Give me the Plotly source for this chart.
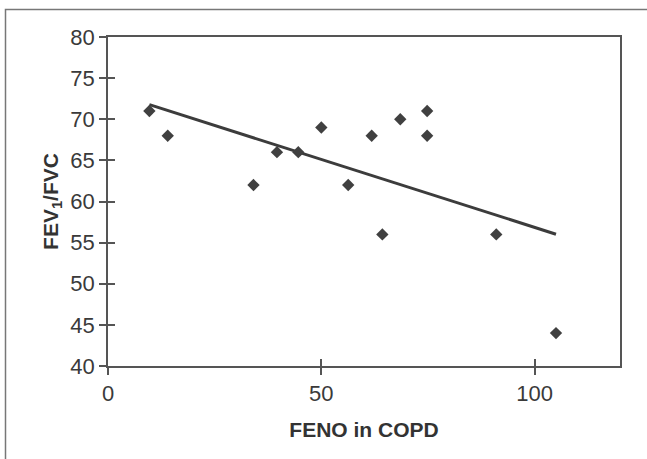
import numpy as np
import plotly.graph_objects as go

feno = [9.7, 14.0, 34.1, 39.6, 44.6, 50.0, 56.3, 61.8, 64.3, 68.5, 74.8, 74.8, 91.0, 105.0]
fev1_fvc = [71, 68, 62, 66, 66, 69, 62, 68, 56, 70, 71, 68, 56, 44]
x_ticks = [0, 50, 100]
y_ticks = [40, 45, 50, 55, 60, 65, 70, 75, 80]
x_range = [0, 120]
y_range = [40, 80]

slope, intercept = np.polyfit(feno, fev1_fvc, 1)
fit_x = [min(feno), max(feno)]
fit_y = [slope * v + intercept for v in fit_x]

dark = "#3c3c3c"
axis_col = "#555555"
font_fam = "Liberation Sans, Arial, sans-serif"

fig = go.Figure()
fig.add_trace(go.Scatter(x=fit_x, y=fit_y, mode="lines",
                         line=dict(color=dark, width=3), showlegend=False, hoverinfo="skip"))
fig.add_trace(go.Scatter(x=feno, y=fev1_fvc, mode="markers",
                         marker=dict(symbol="diamond", size=9.5, color="#404040"),
                         showlegend=False))
# invisible trace to activate the overlay axes used for the inner half of crossing ticks
fig.add_trace(go.Scatter(x=feno, y=fev1_fvc, mode="markers", xaxis="x2", yaxis="y2",
                         marker=dict(opacity=0), showlegend=False, hoverinfo="skip"))

axis_common = dict(showgrid=False, zeroline=False, linecolor=axis_col, linewidth=1.5,
                   tickcolor=axis_col, tickwidth=1.5, ticklen=7,
                   tickfont=dict(family=font_fam, size=22, color="#3a3a3a"))

fig.update_layout(
    width=647, height=459,
    margin=dict(l=108, r=27, t=37, b=93),
    paper_bgcolor="white", plot_bgcolor="white",
    font=dict(family=font_fam),
    xaxis=dict(range=x_range, tickvals=x_ticks, ticks="outside", showline=True, mirror=True,
               title=dict(text="<b>FENO in COPD</b>", font=dict(family=font_fam, size=21, color="#333333"),
                          standoff=17),
               **axis_common),
    yaxis=dict(range=y_range, tickvals=y_ticks, ticks="outside", showline=True, mirror=True,
               title=dict(text="<b>FEV<sub>1</sub>/FVC</b>", font=dict(family=font_fam, size=21, color="#333333"),
                          standoff=6),
               **axis_common),
    xaxis2=dict(range=x_range, tickvals=x_ticks, ticks="inside", overlaying="x", anchor="y2",
                showticklabels=False, showline=False, showgrid=False, zeroline=False,
                tickcolor=axis_col, tickwidth=1.5, ticklen=7),
    yaxis2=dict(range=y_range, tickvals=y_ticks, ticks="inside", overlaying="y", anchor="x2",
                showticklabels=False, showline=False, showgrid=False, zeroline=False,
                tickcolor=axis_col, tickwidth=1.5, ticklen=7),
    shapes=[dict(type="rect", xref="paper", yref="paper",
                 x0=(5.5 - 108) / 512, x1=1.2, y0=-0.5, y1=1 + (37 - 9.5) / 329,
                 line=dict(color="#777777", width=1.5), fillcolor="rgba(0,0,0,0)", layer="below")],
)

fig.write_html("out.html", config={"displayModeBar": False},
               post_script="document.body.style.margin='0';document.body.style.padding='0';")
